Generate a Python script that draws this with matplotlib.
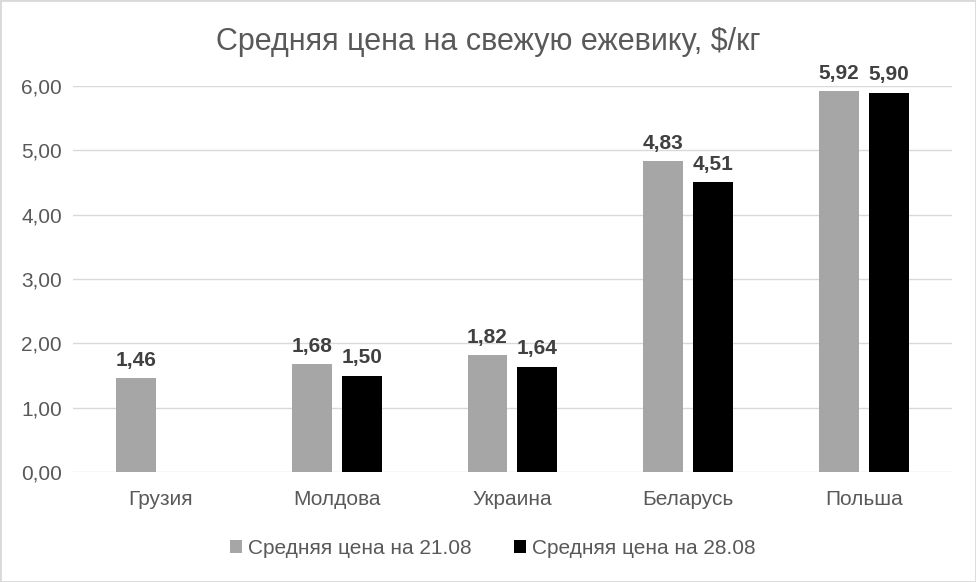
import numpy as np
import matplotlib.pyplot as plt
from matplotlib.patches import Rectangle

countries = ["Грузия", "Молдова", "Украина", "Беларусь", "Польша"]
price_2108 = [1.46, 1.68, 1.82, 4.83, 5.92]
price_2808 = [np.nan, 1.50, 1.64, 4.51, 5.90]
series_names = ["Средняя цена на 21.08", "Средняя цена на 28.08"]
title = "Средняя цена на свежую ежевику, $/кг"

plt.rcParams['font.family'] = ['Liberation Sans', 'DejaVu Sans']

fig = plt.figure(figsize=(9.76, 5.82), dpi=100)
ax = fig.add_axes([0.075, 0.189, 0.900, 0.663])

x = np.arange(len(countries))
w = 0.227
off = 0.142
b1 = ax.bar(x - off, price_2108, w, color='#A6A6A6', label=series_names[0], zorder=3)
b2 = ax.bar(x + off, price_2808, w, color='#000000', label=series_names[1], zorder=3)

# подписи значений над столбцами
for bars, vals in [(b1, price_2108), (b2, price_2808)]:
    for bar, v in zip(bars, vals):
        if np.isnan(v):
            continue
        ax.annotate(f"{v:.2f}".replace('.', ','),
                    (bar.get_x() + bar.get_width() / 2, v),
                    xytext=(0, 6), textcoords='offset points',
                    ha='center', va='bottom', fontsize=15, fontweight='bold',
                    color='#404040', annotation_clip=False)

ax.set_xlim(-0.5, len(countries) - 0.5)
ax.set_ylim(0, 6)
ax.set_yticks(range(0, 7))
ax.set_yticklabels([f"{t:.2f}".replace('.', ',') for t in range(0, 7)])
ax.set_xticks(x)
ax.set_xticklabels(countries)
ax.tick_params(axis='both', length=0, labelsize=15, colors='#595959')
ax.tick_params(axis='x', pad=13)
ax.tick_params(axis='y', pad=8)
ax.grid(axis='y', color='#D9D9D9', linewidth=1, zorder=0)
for s in ax.spines.values():
    s.set_visible(False)

fig.text(0.5, 0.927, title, ha='center', va='center', fontsize=22, color='#595959')

fig.legend(loc='center', bbox_to_anchor=(0.505, 0.058), ncol=2, frameon=False,
           fontsize=15, labelcolor='#595959', handlelength=0.6, handleheight=0.6,
           handletextpad=0.3, columnspacing=2.0)

fig.patches.append(Rectangle((0, 0), 1, 1, transform=fig.transFigure,
                             fill=False, edgecolor='#D9D9D9', linewidth=2))

plt.savefig("out.png", dpi=100)
